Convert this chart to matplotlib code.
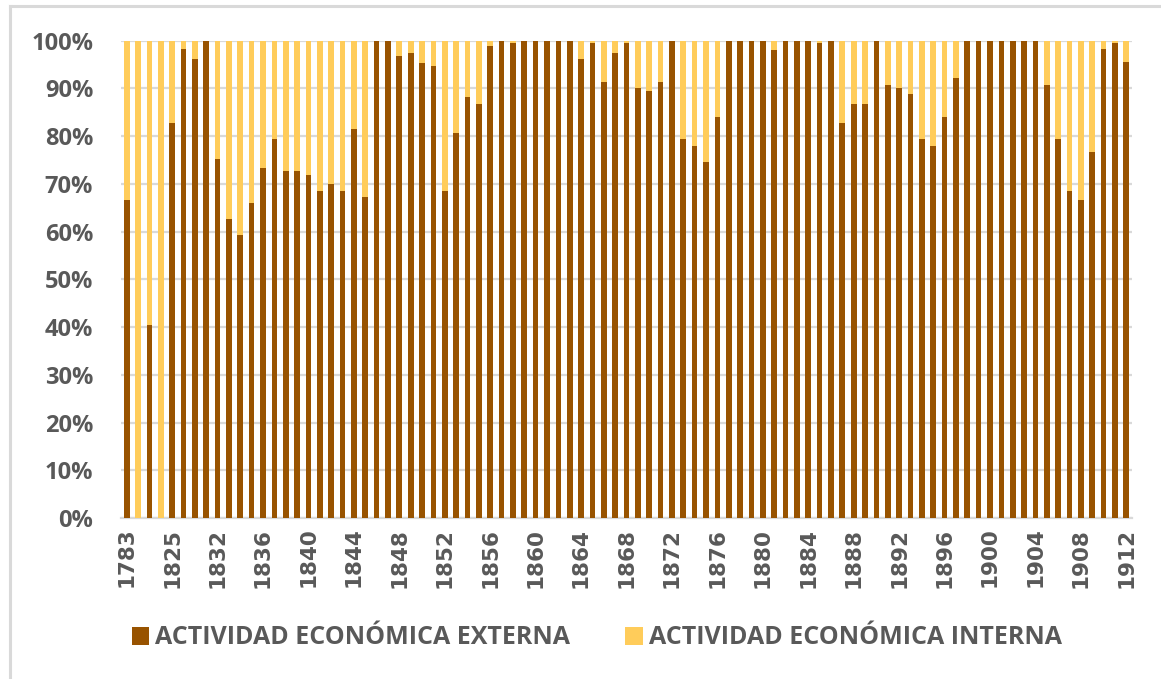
import matplotlib
matplotlib.use("Agg")
import matplotlib.pyplot as plt
from matplotlib.lines import Line2D
from matplotlib.patches import Patch
from matplotlib import font_manager
import numpy as np

# Years shown on the category axis (every fourth one gets a label)
years = [1783, 1791, 1803, 1818, 1825, 1827, 1829, 1830] + list(range(1832, 1913))

# Share of external economic activity (%) per year
externa = [
    66.6, 0.0, 40.5, 0.0, 82.7, 98.2, 96.2, 100.0, 75.3, 62.6,
    59.2, 66.0, 73.3, 79.4, 72.7, 72.7, 71.9, 68.6, 70.0, 68.6,
    81.4, 67.2, 100.0, 100.0, 96.8, 97.5, 95.4, 94.8, 68.6, 80.6,
    88.1, 86.7, 98.9, 100.0, 99.6, 100.0, 100.0, 100.0, 100.0, 100.0,
    96.2, 99.6, 91.4, 97.5, 99.6, 90.1, 89.5, 91.4, 100.0, 79.4,
    78.0, 74.6, 84.0, 100.0, 100.0, 100.0, 100.0, 98.1, 100.0, 100.0,
    100.0, 99.5, 100.0, 82.7, 86.7, 86.7, 100.0, 90.7, 90.1, 88.8,
    79.4, 78.0, 84.0, 92.1, 100.0, 100.0, 100.0, 100.0, 100.0, 100.0,
    100.0, 90.7, 79.4, 68.6, 66.6, 76.7, 98.2, 99.6, 95.5,
]
# Remaining share: internal economic activity (%)
interna = [100.0 - v for v in externa]

series_names = ["ACTIVIDAD ECONÓMICA EXTERNA", "ACTIVIDAD ECONÓMICA INTERNA"]
colors = ["#985300", "#FFCC5A"]
text_color = "#595959"
grid_color = "#D9D9D9"

available = {f.name for f in font_manager.fontManager.ttflist}
family = "Open Sans" if "Open Sans" in available else "DejaVu Sans"
plt.rcParams["font.family"] = [family, "DejaVu Sans"]

W, H = 1161, 679
fig = plt.figure(figsize=(W / 100, H / 100), dpi=100)
fig.patch.set_facecolor("white")

# Chart frame (left and top edges visible)
fig.add_artist(Line2D([10 / W, 10 / W], [0, 1 - 6 / H], transform=fig.transFigure,
                      color="#D9D9D9", lw=2.2))
fig.add_artist(Line2D([10 / W, 1], [1 - 6 / H, 1 - 6 / H], transform=fig.transFigure,
                      color="#D9D9D9", lw=2.2))

ax = fig.add_axes([121 / W, 1 - 518 / H, (1132 - 121) / W, (518 - 40.7) / H])

x = np.arange(len(years))
width = 0.5
ax.bar(x, externa, width=width, color=colors[0], zorder=3)
ax.bar(x, interna, width=width, bottom=externa, color=colors[1], zorder=3)

ax.set_xlim(-0.5, len(years) - 0.5)
ax.set_ylim(0, 100)
ax.set_yticks(np.arange(0, 101, 10))
ax.set_yticklabels([f"{v}%" for v in range(0, 101, 10)])
ax.set_xticks(x[::4])
ax.set_xticklabels([str(y) for y in years[::4]], rotation=90,
                   family="DejaVu Sans", fontsize=15.5)

ax.grid(axis="y", color=grid_color, lw=1.6, zorder=0)
ax.set_axisbelow(True)
for side in ["top", "right", "left"]:
    ax.spines[side].set_visible(False)
ax.spines["bottom"].set_color(grid_color)
ax.spines["bottom"].set_linewidth(1.6)
ax.tick_params(axis="both", length=0, colors=text_color)
ax.tick_params(axis="y", pad=20, labelsize=17)
ax.tick_params(axis="x", pad=7)
for lbl in ax.get_xticklabels() + ax.get_yticklabels():
    lbl.set_fontweight("bold")

handles = [Patch(facecolor=c, edgecolor="none") for c in colors]
leg = fig.legend(handles, series_names, loc="center left",
                 bbox_to_anchor=(109 / W, 1 - 638 / H), ncol=2, frameon=False,
                 prop={"weight": "bold", "size": 18}, handlelength=0.7,
                 handleheight=0.7, handletextpad=0.25, columnspacing=2.2)
for t in leg.get_texts():
    t.set_color(text_color)

fig.savefig("out.png", dpi=100, facecolor="white")
